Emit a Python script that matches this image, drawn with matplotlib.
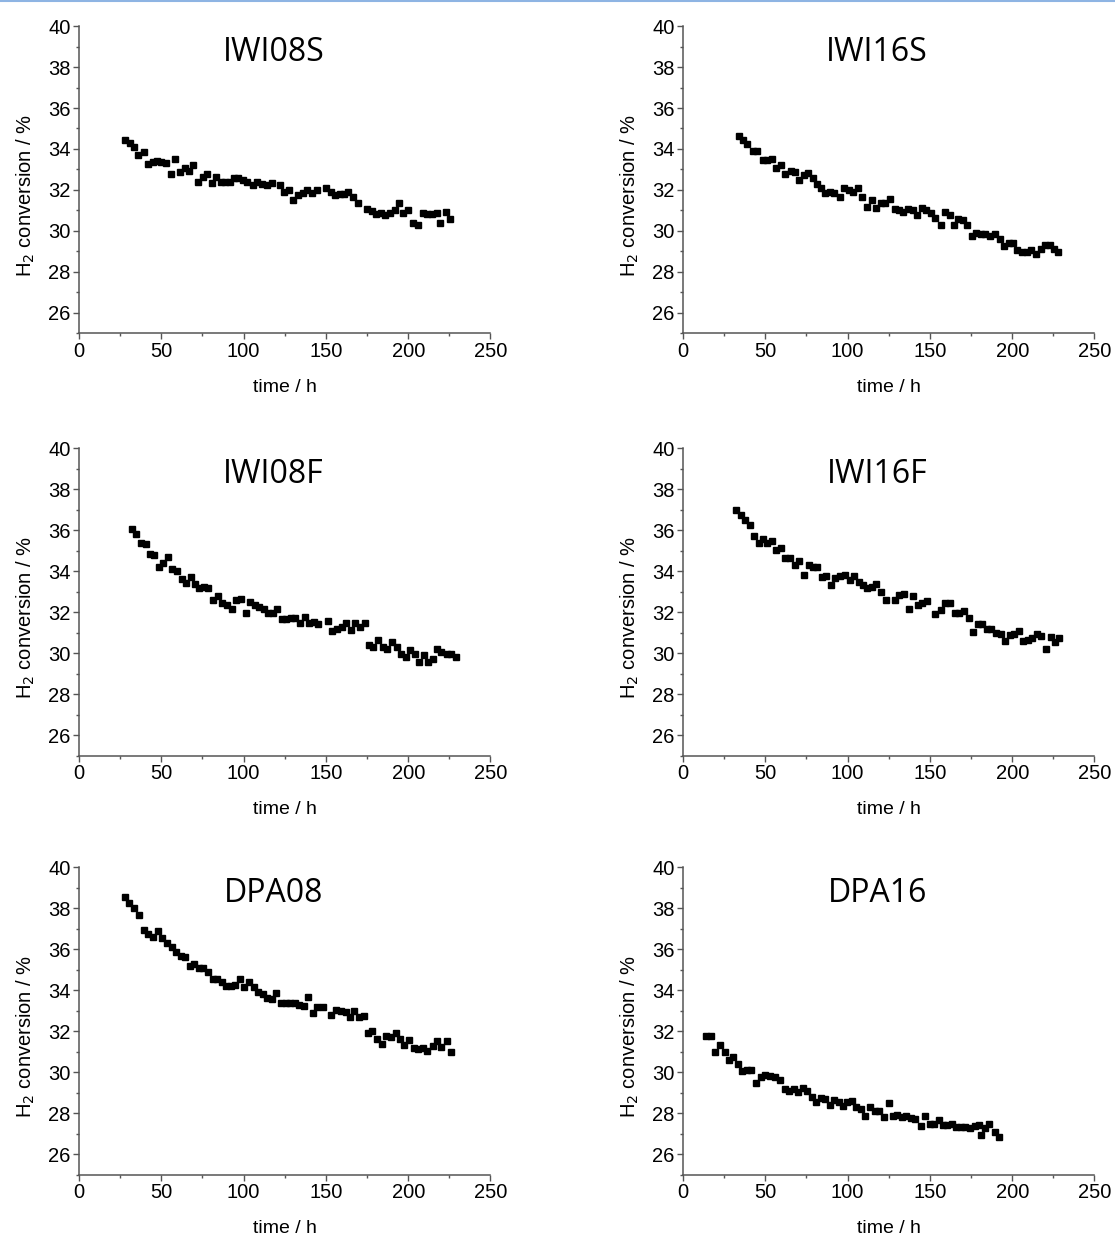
import matplotlib
matplotlib.use("Agg")
import matplotlib.pyplot as plt
from matplotlib.ticker import MultipleLocator
from matplotlib.lines import Line2D

plt.rcParams['font.family'] = ['Liberation Sans', 'DejaVu Sans']

# H2 conversion (%) vs time on stream (h)
iwi08s_t = [27.9, 31.0, 33.4, 36.0, 39.5, 42.0, 45.0, 47.5, 50.0, 53.0, 55.7, 58.3, 61.3, 64.4, 66.8,
            69.4, 72.5, 75.5, 78.0, 80.6, 83.2, 86.0, 88.7, 91.7, 94.1, 96.8, 99.4, 101.8, 105.5, 107.9,
            110.9, 114.0, 117.0, 122.0, 124.5, 127.5, 130.2, 133.2, 136.2, 138.7, 141.3, 144.3, 150.0,
            152.8, 155.5, 158.5, 161.0, 163.6, 166.6, 169.2, 174.7, 177.7, 180.4, 183.2, 185.8, 188.9,
            191.9, 194.5, 197.0, 200.0, 203.0, 205.7, 208.7, 211.5, 214.2, 217.2, 219.6, 222.9, 225.7]
iwi08s_h2 = [34.46, 34.27, 34.10, 33.70, 33.86, 33.26, 33.34, 33.42, 33.34, 33.30, 32.80, 33.49, 32.88,
             33.05, 32.93, 33.24, 32.40, 32.64, 32.80, 32.35, 32.64, 32.40, 32.40, 32.40, 32.56, 32.56,
             32.48, 32.40, 32.23, 32.40, 32.31, 32.23, 32.35, 32.23, 31.90, 31.99, 31.50, 31.74, 31.86,
             31.99, 31.87, 31.99, 32.07, 31.90, 31.74, 31.78, 31.78, 31.90, 31.66, 31.38, 31.09, 30.98,
             30.81, 30.85, 30.77, 30.88, 31.00, 31.34, 30.85, 31.04, 30.36, 30.28, 30.88, 30.81, 30.81,
             30.88, 30.39, 30.93, 30.60]

iwi16s_t = [33.8, 36.4, 39.1, 42.5, 45.1, 48.6, 51.2, 54.0, 56.7, 59.7, 62.1, 65.4, 67.8, 70.4, 73.5,
            75.9, 78.9, 81.6, 84.0, 86.4, 89.1, 91.7, 95.1, 97.8, 100.6, 103.2, 106.3, 108.9, 111.9,
            114.8, 117.4, 120.0, 122.9, 125.5, 128.5, 131.0, 133.6, 136.6, 139.7, 142.3, 145.1, 147.8,
            150.8, 153.2, 156.5, 158.9, 162.0, 164.6, 167.0, 170.0, 172.7, 175.5, 178.1, 181.2, 183.6,
            186.8, 189.3, 192.3, 194.9, 197.8, 200.4, 203.0, 205.9, 209.1, 211.5, 214.6, 217.2, 220.0,
            222.7, 225.3, 228.1]
iwi16s_h2 = [34.63, 34.43, 34.23, 33.91, 33.91, 33.45, 33.45, 33.49, 33.05, 33.24, 32.80, 32.92, 32.88,
             32.50, 32.72, 32.83, 32.56, 32.31, 32.07, 31.86, 31.91, 31.86, 31.63, 32.10, 32.02, 31.91,
             32.07, 31.66, 31.17, 31.50, 31.14, 31.37, 31.34, 31.58, 31.09, 31.01, 30.93, 31.09, 31.01,
             30.77, 31.14, 31.04, 30.88, 30.65, 30.28, 30.93, 30.77, 30.28, 30.60, 30.52, 30.28, 29.74,
             29.90, 29.87, 29.87, 29.74, 29.87, 29.58, 29.25, 29.41, 29.41, 29.06, 28.97, 28.97, 29.06,
             28.89, 29.09, 29.30, 29.30, 29.09, 28.97]

iwi08f_t = [32.0, 34.6, 37.4, 40.5, 43.1, 45.7, 48.6, 51.2, 54.3, 56.7, 59.7, 62.3, 64.9, 67.8, 70.4,
            73.1, 75.9, 78.5, 81.6, 84.2, 87.0, 89.7, 92.7, 95.3, 98.2, 101.2, 103.8, 106.9, 109.5,
            112.3, 115.0, 117.6, 120.5, 123.1, 125.7, 128.5, 131.2, 134.2, 137.2, 139.9, 142.7, 145.3,
            151.4, 154.0, 156.9, 159.5, 162.2, 165.0, 167.6, 170.7, 173.7, 176.3, 178.8, 181.8, 184.4,
            187.2, 190.3, 192.9, 195.6, 198.4, 201.0, 204.1, 206.7, 209.5, 212.1, 215.2, 217.6, 220.2,
            223.3, 226.3, 229.0]
iwi08f_h2 = [36.04, 35.81, 35.39, 35.33, 34.84, 34.80, 34.22, 34.41, 34.71, 34.09, 34.02, 33.60, 33.44,
             33.73, 33.40, 33.16, 33.24, 33.16, 32.59, 32.78, 32.43, 32.35, 32.18, 32.62, 32.67, 31.97,
             32.51, 32.35, 32.26, 32.18, 31.97, 31.94, 32.18, 31.69, 31.69, 31.74, 31.74, 31.45, 31.77,
             31.48, 31.53, 31.42, 31.56, 31.09, 31.16, 31.26, 31.45, 31.12, 31.48, 31.26, 31.45, 30.39,
             30.28, 30.64, 30.31, 30.18, 30.55, 30.28, 29.98, 29.79, 30.15, 29.98, 29.58, 29.90, 29.58,
             29.74, 30.18, 30.07, 29.95, 29.98, 29.79]

iwi16f_t = [32.4, 35.0, 37.9, 40.5, 43.1, 46.0, 48.6, 51.2, 54.0, 56.7, 59.3, 62.1, 64.8, 67.8, 70.4,
            73.5, 76.3, 78.9, 81.6, 84.4, 87.0, 90.1, 92.5, 95.5, 98.2, 101.2, 103.8, 106.7, 109.3,
            112.0, 114.8, 117.4, 120.4, 123.5, 128.5, 131.0, 134.2, 137.0, 139.7, 142.7, 145.1, 148.4,
            153.2, 156.5, 158.9, 162.0, 165.0, 167.4, 170.7, 173.5, 176.1, 179.1, 181.6, 184.8, 187.2,
            190.3, 192.9, 195.8, 198.4, 201.0, 203.9, 206.5, 209.5, 212.1, 215.2, 217.6, 220.6, 223.3,
            226.1, 228.7]
iwi16f_h2 = [36.99, 36.74, 36.50, 36.26, 35.72, 35.36, 35.60, 35.39, 35.49, 35.03, 35.16, 34.63, 34.67,
             34.30, 34.51, 33.81, 34.30, 34.22, 34.19, 33.73, 33.76, 33.32, 33.65, 33.76, 33.81, 33.57,
             33.76, 33.49, 33.32, 33.16, 33.24, 33.40, 33.00, 32.59, 32.59, 32.83, 32.88, 32.18, 32.78,
             32.35, 32.46, 32.56, 31.90, 32.10, 32.46, 32.43, 31.97, 31.97, 32.07, 31.74, 31.04, 31.42,
             31.42, 31.20, 31.16, 31.00, 30.96, 30.60, 30.88, 30.96, 31.09, 30.60, 30.64, 30.72, 30.93,
             30.83, 30.18, 30.77, 30.55, 30.72]

dpa08_t = [27.9, 30.6, 33.4, 36.6, 39.5, 42.1, 45.1, 47.8, 50.6, 53.2, 56.3, 58.9, 61.7, 64.4, 67.4,
           70.0, 72.9, 75.5, 78.5, 81.2, 84.0, 86.6, 89.3, 92.1, 94.7, 97.8, 100.4, 103.4, 106.3, 108.9,
           111.5, 114.4, 117.0, 119.6, 122.7, 125.5, 128.1, 131.2, 133.8, 136.6, 139.3, 141.9, 144.7,
           148.0, 152.8, 156.1, 158.9, 162.0, 164.6, 167.2, 170.0, 173.1, 175.7, 178.3, 181.2, 183.8,
           186.4, 189.3, 192.3, 195.0, 197.6, 200.6, 203.4, 206.1, 209.1, 211.7, 214.8, 217.2, 220.2,
           223.3, 225.9]
dpa08_h2 = [38.53, 38.27, 38.00, 37.67, 36.94, 36.74, 36.61, 36.91, 36.53, 36.29, 36.12, 35.88, 35.67,
            35.64, 35.18, 35.28, 35.07, 35.07, 34.90, 34.53, 34.53, 34.41, 34.20, 34.20, 34.25, 34.53,
            34.17, 34.41, 34.17, 33.93, 33.81, 33.60, 33.55, 33.88, 33.39, 33.39, 33.36, 33.36, 33.27,
            33.22, 33.68, 32.90, 33.19, 33.19, 32.79, 33.03, 33.00, 32.95, 32.70, 33.00, 32.67, 32.74,
            31.92, 32.02, 31.64, 31.37, 31.76, 31.73, 31.92, 31.60, 31.32, 31.56, 31.16, 31.11, 31.16,
            31.04, 31.27, 31.53, 31.24, 31.53, 30.99]

dpa16_t = [14.2, 17.2, 19.6, 22.3, 25.3, 27.7, 30.4, 33.4, 36.0, 38.9, 41.5, 44.5, 47.6, 50.0, 53.0,
           55.7, 58.7, 61.7, 64.4, 67.4, 69.8, 72.9, 75.5, 78.3, 81.0, 84.0, 86.4, 89.1, 91.7, 94.5,
           97.2, 99.8, 102.6, 105.3, 107.9, 110.7, 113.4, 116.4, 118.8, 122.1, 124.9, 127.5, 130.2,
           133.0, 135.6, 138.3, 141.1, 144.3, 147.2, 149.8, 152.4, 155.3, 157.9, 160.5, 163.4, 166.0,
           168.6, 171.5, 174.1, 177.1, 179.6, 180.8, 183.6, 186.2, 189.3, 191.7]
dpa16_h2 = [31.76, 31.76, 30.99, 31.32, 30.99, 30.59, 30.72, 30.42, 30.06, 30.10, 30.10, 29.48, 29.74,
            29.85, 29.80, 29.74, 29.64, 29.20, 29.09, 29.20, 29.04, 29.25, 29.09, 28.79, 28.55, 28.76,
            28.71, 28.38, 28.63, 28.55, 28.34, 28.55, 28.60, 28.31, 28.18, 27.85, 28.31, 28.11, 28.11,
            27.82, 28.50, 27.85, 27.90, 27.79, 27.85, 27.74, 27.69, 27.36, 27.85, 27.49, 27.46, 27.66,
            27.41, 27.41, 27.46, 27.30, 27.30, 27.30, 27.25, 27.36, 27.41, 26.93, 27.25, 27.46, 27.09,
            26.81]

labels = ["IWI08S", "IWI16S", "IWI08F", "IWI16F", "DPA08", "DPA16"]
times = [iwi08s_t, iwi16s_t, iwi08f_t, iwi16f_t, dpa08_t, dpa16_t]
conversions = [iwi08s_h2, iwi16s_h2, iwi08f_h2, iwi16f_h2, dpa08_h2, dpa16_h2]

fig = plt.figure(figsize=(11.15, 12.37), dpi=100)

lefts = [0.0709, 0.6126]
bottoms = [0.7306, 0.3892, 0.0505]
spine_col = "#555555"

for k in range(6):
    row, col = k // 2, k % 2
    ax = fig.add_axes([lefts[col], bottoms[row], 0.3690, 0.2483])
    ax.plot(times[k], conversions[k], ls="none", marker="s", ms=4.4, color="black")

    ax.set_xlim(0, 250)
    ax.set_ylim(25, 40)
    ax.xaxis.set_major_locator(MultipleLocator(50))
    ax.xaxis.set_minor_locator(MultipleLocator(25))
    ax.yaxis.set_minor_locator(MultipleLocator(1))
    ax.set_yticks(range(26, 41, 2))

    for s in ["top", "right"]:
        ax.spines[s].set_visible(False)
    for s in ["left", "bottom"]:
        ax.spines[s].set_color(spine_col)
        ax.spines[s].set_linewidth(1.1)
    ax.tick_params(which="major", direction="out", length=4, width=1, color=spine_col,
                   labelsize=14.5, pad=2)
    ax.tick_params(which="minor", direction="out", length=2.5, width=1, color=spine_col)

    ax.set_xlabel("time / h", fontsize=14, labelpad=13)
    ax.set_ylabel("H$_2$ conversion / %", fontsize=14.5, labelpad=8)
    ax.yaxis.label.set_y(0.45)

    ax.text(0.472, 0.915, labels[k], transform=ax.transAxes, ha="center", va="center",
            fontsize=23, family=["Open Sans", "DejaVu Sans"])

# thin blue rule along the top edge of the original page
fig.add_artist(Line2D([0, 1], [0.999, 0.999], transform=fig.transFigure, color="#8eb4e3", lw=1.5))

fig.savefig("out.png", dpi=100)
